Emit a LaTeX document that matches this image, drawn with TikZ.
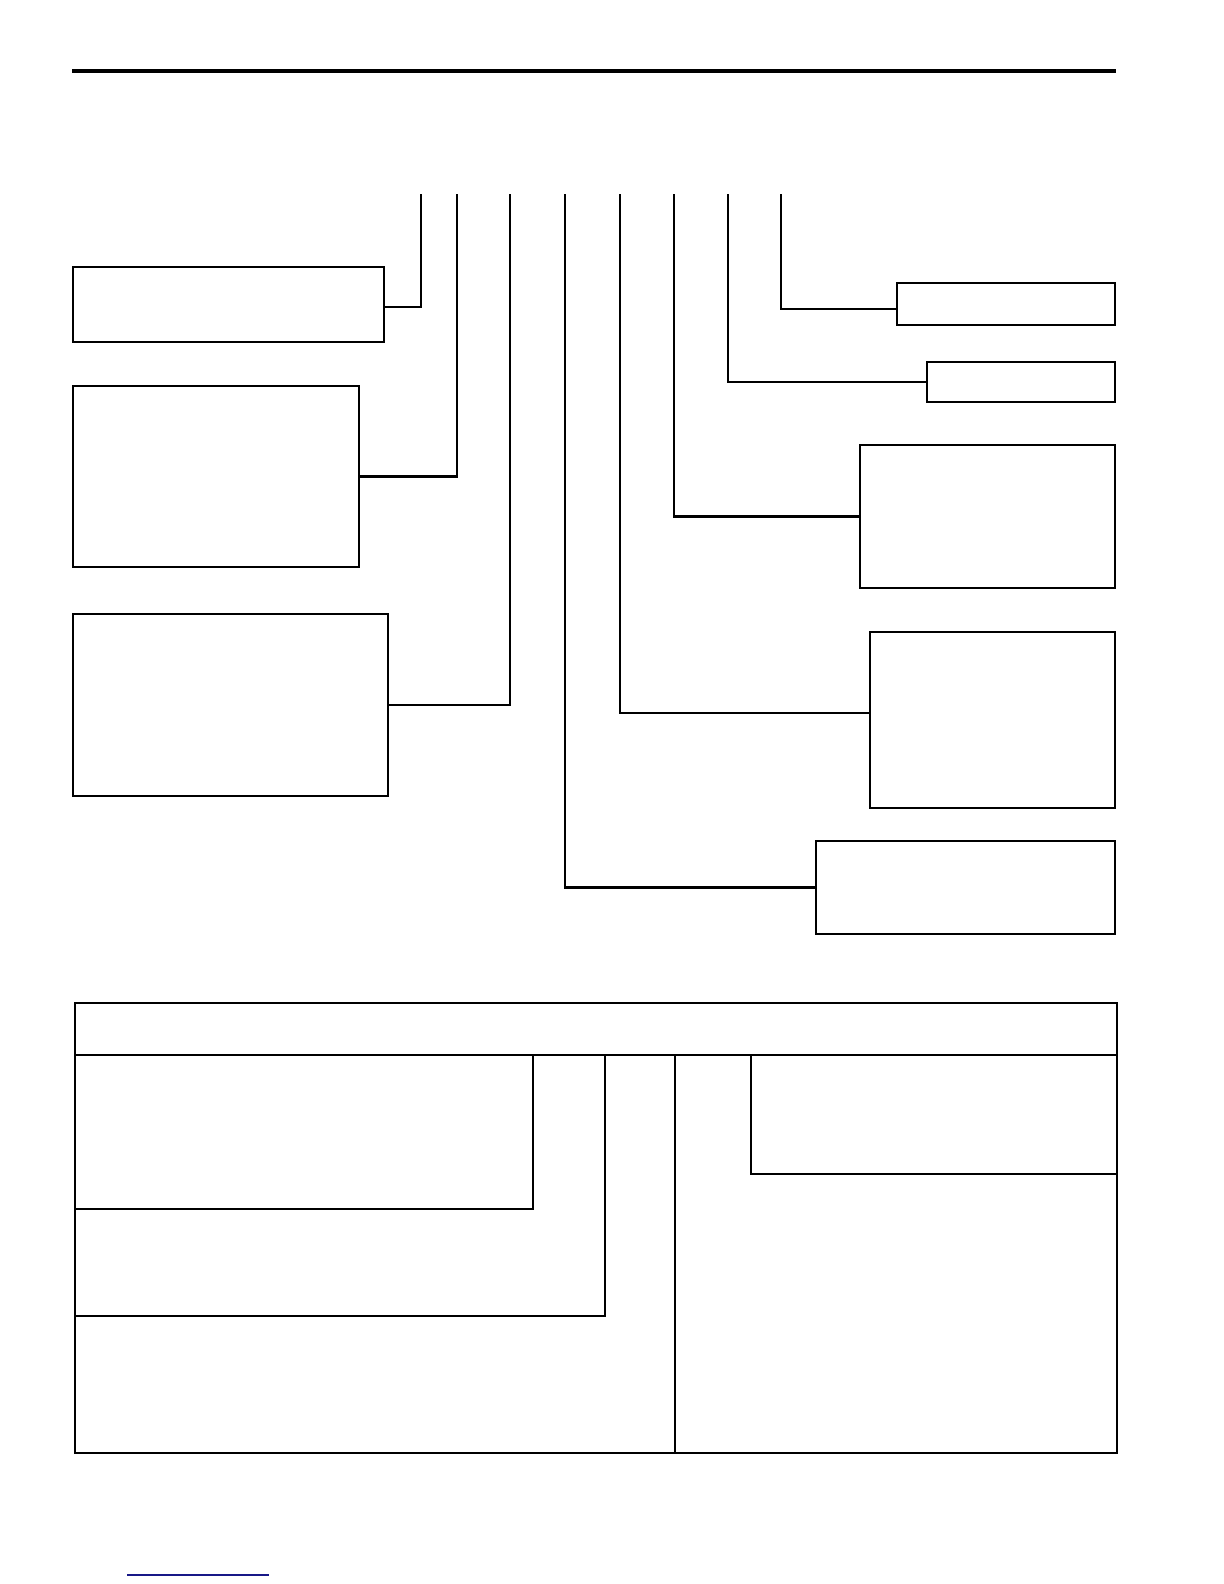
\documentclass[tikz,border=0pt]{standalone}
\usetikzlibrary{fit}
\definecolor{linkblue}{RGB}{24,24,135}
\begin{document}
\begin{tikzpicture}[x=0.5pt, y=-0.5pt, line width=1.3pt,
  box/.style={draw, rectangle, inner sep=0pt, line width=1.3pt},
  wire/.style={line width=1.3pt}]
  \useasboundingbox (0,0) rectangle (1224,1584);

  % head rule
  \draw[line width=2pt] (72,71) -- (1116,71);

  % upper ends of the leads
  \coordinate (a1) at (421,194);
  \coordinate (a2) at (457,194);
  \coordinate (a3) at (510,194);
  \coordinate (a4) at (565,194);
  \coordinate (a5) at (620,194);
  \coordinate (a6) at (674,194);
  \coordinate (a7) at (728,194);
  \coordinate (a8) at (781,194);

  % boxes, left side
  \node[box, fit={(73,267) (384,342)}] (1) {};
  \node[box, fit={(73,386) (359,567)}] (2) {};
  \node[box, fit={(73,614) (388,796)}] (3) {};
  % boxes, right side
  \node[box, fit={(816,841) (1115,934)}] (4) {};
  \node[box, fit={(870,632) (1115,808)}] (5) {};
  \node[box, fit={(860,445) (1115,588)}] (6) {};
  \node[box, fit={(927,362) (1115,402)}] (7) {};
  \node[box, fit={(897,283) (1115,325)}] (8) {};

  \draw[wire] ([yshift=-1.25pt]1.east) -| (a1);
  \draw[wire] (2.east) -| (a2);
  \draw[wire] (3.east) -| (a3);
  \draw[wire] (a4) |- (4.west);
  \draw[wire] (a5) |- ([yshift=3.5pt]5.west);
  \draw[wire] (a6) |- (6.west);
  \draw[wire] (a7) |- (7.west);
  \draw[wire] (a8) |- ([yshift=-2.5pt]8.west);

  % table
  \draw (75,1003) rectangle (1117,1453);
  \draw (75,1055) -- (1117,1055);
  \draw (675,1055) -- (675,1453);
  \draw (75,1209) -| (533,1055);
  \draw (75,1316) -| (605,1055);
  \draw (751,1055) |- (1117,1174);

  % foot line
  \draw[linkblue, line width=0.8pt] (127,1575) -- (269,1575);
\end{tikzpicture}
\end{document}
